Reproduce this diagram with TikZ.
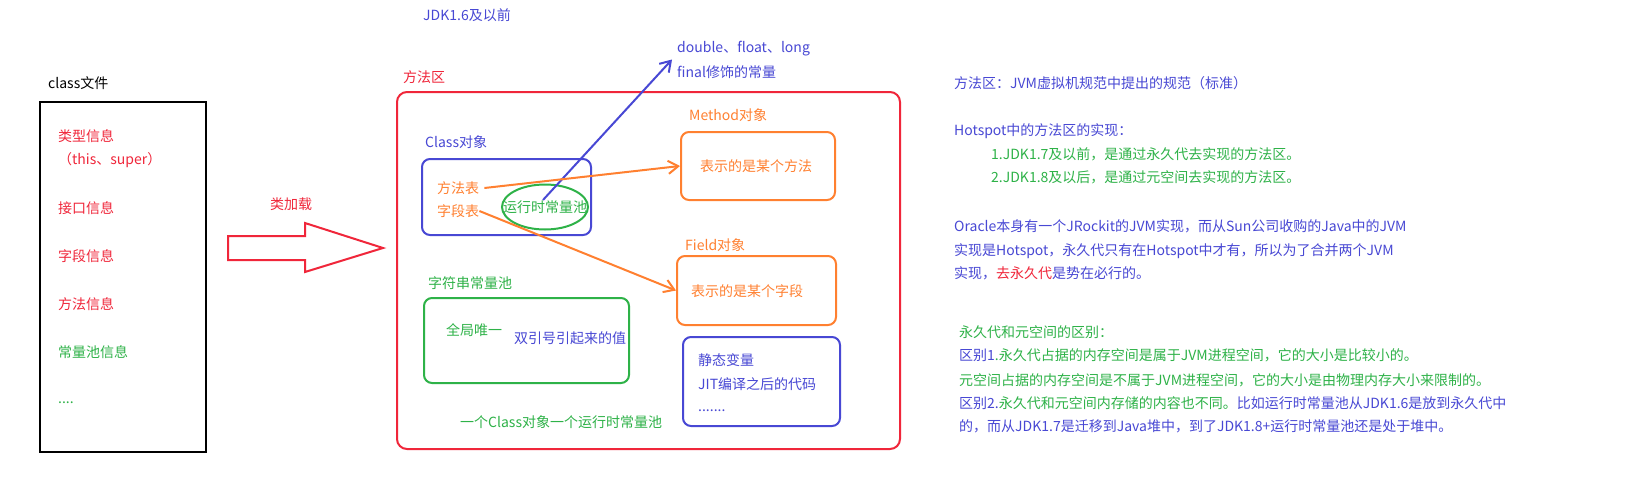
\documentclass[tikz,border=0pt]{standalone}
\usepackage{fontspec}
\setmainfont{Noto Sans CJK SC}
\usetikzlibrary{arrows.meta,shapes.geometric,calc}
\definecolor{cred}{RGB}{240,38,58}
\definecolor{cblue}{RGB}{72,72,212}
\definecolor{cgreen}{RGB}{46,178,72}
\definecolor{corange}{RGB}{255,128,48}
\tikzset{
  txt/.style={anchor=west, inner sep=0pt, text height=12.3pt, text depth=1.7pt},
  box/.style={draw, line width=2pt, rounded corners=8pt, inner sep=0pt},
  conn/.style={line width=2pt, -{Straight Barb[length=10pt,width=13pt]}},
}
\begin{document}
\begin{tikzpicture}[x=1pt,y=-1pt,font=\fontsize{14pt}{17pt}\selectfont]
\useasboundingbox[fill=white] (0,0) rectangle (1631,480);

% class file
\node[txt] (clsfile) at (48,83) {class文件};
\node[draw=black, line width=2.5pt, minimum width=166pt, minimum height=350pt, inner sep=0pt] (classbox) at (123,277) {};
\node[txt, text=cred] (t1) at (58,136) {类型信息};
\node[txt, text=cred] (t2) at (58,159) {（this、super）};
\node[txt, text=cred] (t3) at (58,208) {接口信息};
\node[txt, text=cred] (t4) at (58,256) {字段信息};
\node[txt, text=cred] (t5) at (58,304) {方法信息};
\node[txt, text=cgreen] (t6) at (58,352) {常量池信息};
\node[txt, text=cgreen] (t7) at (58,398) {....};

% class loading arrow
\node[txt, text=cred] (load) at (270,204) {类加载};
\draw[cred, line width=2pt, line join=miter] (228,236) -- (305,236) -- (305,223) -- (383,248) -- (305,272) -- (305,260) -- (228,260) -- cycle;

% method area
\node[txt, text=cblue] (jdk16) at (423,15) {JDK1.6及以前};
\node[txt, text=cred] (malabel) at (403,77) {方法区};
\node[box, draw=cred, rounded corners=10pt, minimum width=503pt, minimum height=357pt] (mabox) at (648.5,270.5) {};

\node[txt, text=cblue] (dbl) at (677,47) {double、float、long};
\node[txt, text=cblue] (fin) at (677,72) {final修饰的常量};

\node[txt, text=cblue] (clslabel) at (425,142) {Class对象};
\node[box, draw=cblue, minimum width=169pt, minimum height=76pt] (clsbox) at (506.5,197) {};
\node[txt, text=corange] (fft) at (437,188) {方法表};
\node[txt, text=corange] (zdb) at (437,211) {字段表};
\node[draw=cgreen, line width=2pt, ellipse, minimum width=86pt, minimum height=45pt, inner sep=0pt] (ell) at (545,207) {};
\node[text=cgreen, inner sep=0pt, text height=12.3pt, text depth=1.7pt] (rtcp) at (545,207) {运行时常量池};

\node[txt, text=corange] (mlabel) at (689,115) {Method对象};
\node[box, draw=corange, minimum width=154pt, minimum height=68pt] (mbox) at (758,166) {};
\node[txt, text=corange] (mtext) at (700,166) {表示的是某个方法};

\node[txt, text=corange] (flabel) at (685,245) {Field对象};
\node[box, draw=corange, minimum width=159pt, minimum height=69pt] (fbox) at (756.5,290.5) {};
\node[txt, text=corange] (ftext) at (691,291) {表示的是某个字段};

\node[txt, text=cgreen] (slabel) at (428,283) {字符串常量池};
\node[box, draw=cgreen, minimum width=205pt, minimum height=85pt] (sbox) at (526.5,340.5) {};
\node[txt, text=cgreen] (s1) at (446,330) {全局唯一};
\node[txt, text=cblue] (s2) at (514,338) {双引号引起来的值};

\node[box, draw=cblue, minimum width=157pt, minimum height=89pt] (obox) at (761.5,381.5) {};
\node[txt, text=cblue] (o1) at (698,360) {静态变量};
\node[txt, text=cblue] (o2) at (698,384) {JIT编译之后的代码};
\node[txt, text=cblue] (o3) at (698,406) {.......};

\node[txt, text=cgreen] (onepool) at (460,422) {一个Class对象一个运行时常量池};

% connectors
\coordinate (bluetip) at ($(dbl.west)!0.5!(fin.west)+(-5,0)$);
\draw[conn, cblue] ([shift={(-2,-7)}]ell.center) -- (bluetip);
\draw[conn, corange] ([xshift=5pt]fft.east) -- (mbox.west);
\draw[conn, corange] (zdb.east) -- (fbox.west);

% right-hand notes
\node[txt, text=cblue] (r1) at (954,83) {方法区：JVM虚拟机规范中提出的规范（标准）};
\node[txt, text=cblue] (r2) at (954,130) {Hotspot中的方法区的实现：};
\node[txt, text=cgreen] (r3) at (991,154) {1.JDK1.7及以前，是通过永久代去实现的方法区。};
\node[txt, text=cgreen] (r4) at (991,177) {2.JDK1.8及以后，是通过元空间去实现的方法区。};
\node[txt, text=cblue] (r5) at (954,226) {Oracle本身有一个JRockit的JVM实现，而从Sun公司收购的Java中的JVM};
\node[txt, text=cblue] (r6) at (954,250) {实现是Hotspot，永久代只有在Hotspot中才有，所以为了合并两个JVM};
\node[txt, text=cblue] (r7) at (954,273) {实现，\textcolor{cred}{去永久代}是势在必行的。};
\node[txt, text=cgreen] (r8) at (959,332) {永久代和元空间的区别：};
\node[txt, text=cgreen] (r9) at (959,355) {\textcolor{cblue}{区别1}.永久代占据的内存空间是属于JVM进程空间，它的大小是比较小的。};
\node[txt, text=cgreen] (r10) at (959,380) {元空间占据的内存空间是不属于JVM进程空间，它的大小是由物理内存大小来限制的。};
\node[txt, text=cblue] (r11) at (959,403) {区别2.\textcolor{cgreen}{永久代和元空间内存储的内容也不同。}比如运行时常量池从JDK1.6是放到永久代中};
\node[txt, text=cblue] (r12) at (959,426) {的，而从JDK1.7是迁移到Java堆中，到了JDK1.8+运行时常量池还是处于堆中。};
\end{tikzpicture}
\end{document}
